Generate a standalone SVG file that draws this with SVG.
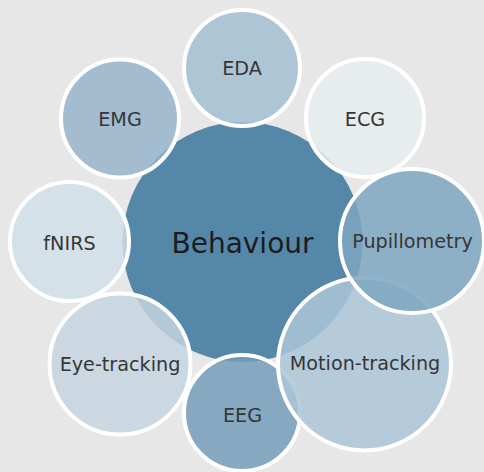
<svg xmlns="http://www.w3.org/2000/svg" width="484" height="472" viewBox="0 0 484 472">
<style>
.bg{fill:#e7e7e7}
.sat{stroke:#ffffff;stroke-width:4;fill-opacity:0.85}
.lbl{font-family:"DejaVu Sans",sans-serif;font-size:19.2px;fill:#363636;text-anchor:middle}
.main{font-family:"DejaVu Sans",sans-serif;font-size:28px;fill:#1c1c1c;text-anchor:middle}
</style>
<rect class="bg" x="0" y="0" width="484" height="472"/>
<g id="connectors"></g>
<g id="behaviour">
<circle cx="242.5" cy="242" r="120" fill="#5587a9"/>
</g>
<g id="eda">
<circle class="sat" cx="242" cy="68" r="58" fill="#a3bed2"/>
<text class="lbl" x="242" y="75">EDA</text>
</g>
<g id="emg">
<circle class="sat" cx="120" cy="118.5" r="59" fill="#97b4cb"/>
<text class="lbl" x="120" y="126">EMG</text>
</g>
<g id="fnirs">
<circle class="sat" cx="69.5" cy="241.5" r="59.5" fill="#d0dfe9"/>
<text class="lbl" x="69.5" y="249.5">fNIRS</text>
</g>
<g id="eye-tracking">
<circle class="sat" cx="120" cy="364" r="70.5" fill="#c6d5e1"/>
<text class="lbl" x="120" y="370.5">Eye-tracking</text>
</g>
<g id="eeg">
<circle class="sat" cx="242" cy="413" r="58" fill="#759cba"/>
<text class="lbl" x="242.5" y="421.5">EEG</text>
</g>
<g id="motion-tracking">
<circle class="sat" cx="364.5" cy="364" r="86.5" fill="#adc6d7"/>
<text class="lbl" x="365" y="370">Motion-tracking</text>
</g>
<g id="pupillometry">
<circle class="sat" cx="412" cy="241" r="72" fill="#7ea6bf"/>
<text class="lbl" x="412.5" y="247.5">Pupillometry</text>
</g>
<g id="ecg">
<circle class="sat" cx="365" cy="118" r="59" fill="#e6ecf0"/>
<text class="lbl" x="365" y="126">ECG</text>
</g>
<g id="behaviour-label">
<text class="main" x="242.5" y="252.5">Behaviour</text>
</g>
</svg>
